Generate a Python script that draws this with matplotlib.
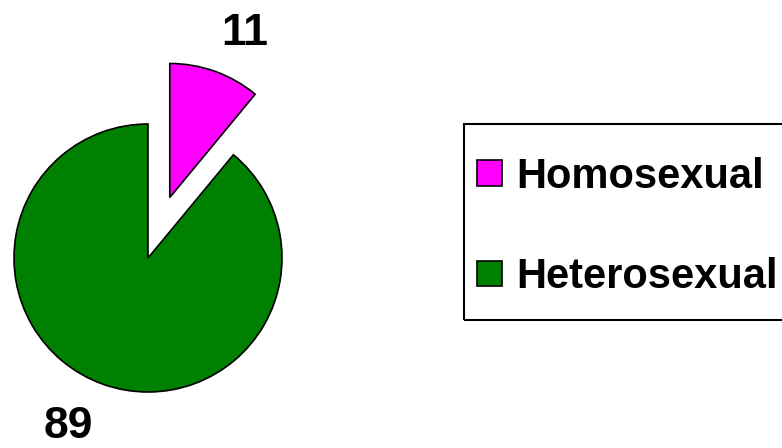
import numpy as np
import matplotlib
matplotlib.use("Agg")
import matplotlib.pyplot as plt
from matplotlib.patches import Rectangle

plt.rcParams['font.family'] = ['Liberation Sans', 'DejaVu Sans']

# data
categories = ['Homosexual', 'Heterosexual']
values = [11, 89]
colors = ['#FF00FF', '#008000']
explode = [0.48, 0]

W, H = 782, 448
fig = plt.figure(figsize=(W / 100, H / 100), dpi=100)
ax = fig.add_axes([0, 0, 1, 1])

# pie centre (pixels) and radius
cx, cy, r = 148, 258, 134

wedges, _ = ax.pie(values, colors=colors, explode=explode, startangle=90,
                   counterclock=False,
                   wedgeprops=dict(edgecolor='black', linewidth=1.2))
ax.set_aspect('auto')
ax.set_xlim(-cx / r, (W - cx) / r)
ax.set_ylim(-(H - cy) / r, cy / r)
ax.axis('off')

# value labels
ax.text((245 - cx) / r, (cy - 45) / r, str(values[0]), ha='center', va='baseline',
        fontsize=32, fontweight='bold')
ax.text((68 - cx) / r, (cy - 447) / r, str(values[1]), ha='center', va='bottom',
        fontsize=32, fontweight='bold')

# legend frame
fig.patches.append(Rectangle((464 / W, 1 - 320 / H), 330 / W, 196 / H,
                             transform=fig.transFigure, facecolor='none',
                             edgecolor='black', linewidth=1.5))

leg = fig.legend(wedges, categories, loc='center left',
                 bbox_to_anchor=(477 / W, 1 - 227 / H),
                 frameon=False, borderpad=0, borderaxespad=0,
                 prop=dict(size=30, weight='bold'),
                 handlelength=0.6, handleheight=0.55, handletextpad=0.35,
                 labelspacing=1.45)

fig.savefig('out.png', dpi=100)
